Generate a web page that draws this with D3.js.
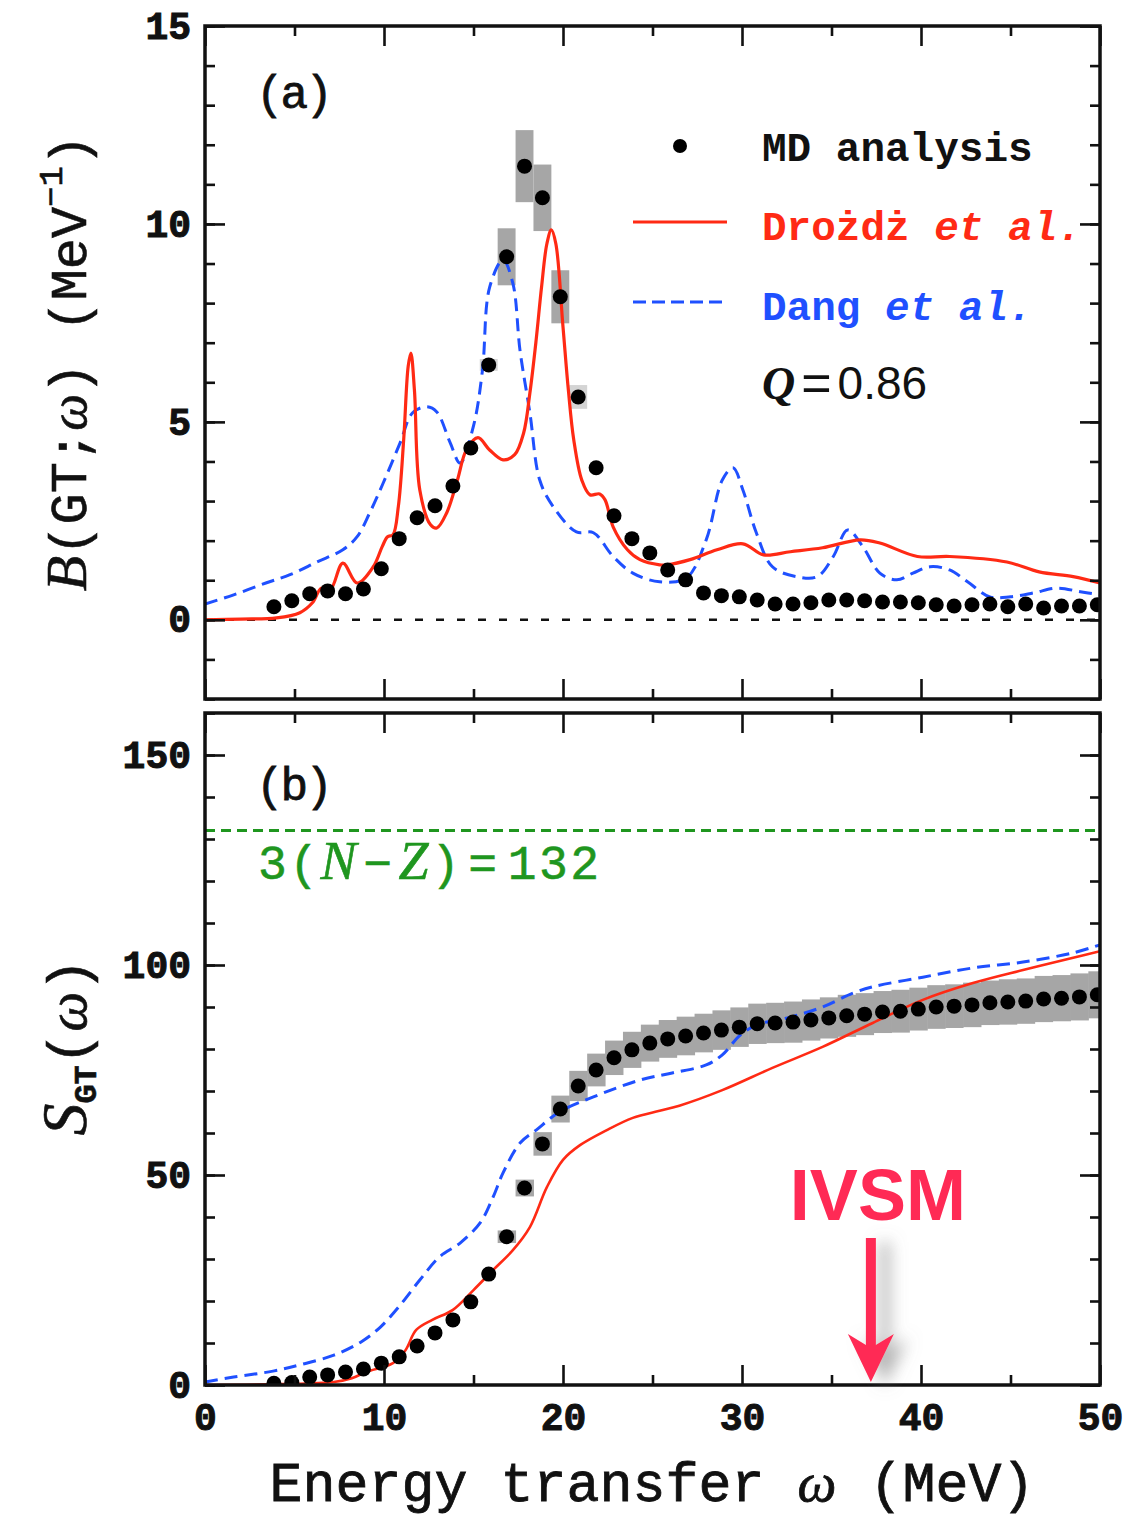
<!DOCTYPE html>
<html><head><meta charset="utf-8">
<script src="https://cdn.jsdelivr.net/npm/d3@7"></script>
<style>
html,body{margin:0;padding:0;background:#fff;}
svg{display:block;}
</style></head>
<body>
<svg id="chart" width="1148" height="1520"></svg>
<script>
// ---------------- DATA ----------------
// MD analysis points (energy in MeV)
const mdX = [3.85,4.85,5.85,6.85,7.85,8.85,9.85,10.85,11.85,12.85,13.85,14.85,15.85,16.85,17.85,18.85,19.85,20.85,21.85,22.85,23.85,24.85,25.85,26.85,27.85,28.85,29.85,30.85,31.85,32.85,33.85,34.85,35.85,36.85,37.85,38.85,39.85,40.85,41.85,42.85,43.85,44.85,45.85,46.85,47.85,48.85,49.85];
// panel (a): B(GT;w)
const mdB = [0.33,0.48,0.66,0.73,0.66,0.78,1.29,2.05,2.58,2.88,3.38,4.34,6.44,9.17,11.46,10.66,8.16,5.63,3.84,2.63,2.05,1.69,1.26,1.01,0.68,0.61,0.58,0.50,0.40,0.40,0.43,0.50,0.50,0.48,0.45,0.45,0.43,0.38,0.35,0.38,0.40,0.33,0.40,0.30,0.35,0.35,0.38];
const mdBErr = [0,0,0,0,0,0,0,0,0,0,0,0,0.15,0.72,0.91,0.84,0.67,0.3,0,0,0,0,0,0,0,0,0,0,0,0,0,0,0,0,0,0,0,0,0,0,0,0,0,0,0,0,0];
// panel (b): S_GT(w)
const mdS = [0.4,0.6,1.9,2.4,3.1,3.8,5.2,6.7,9.3,12.4,15.5,19.8,26.4,35.3,46.9,57.4,65.7,71.2,75.0,77.9,79.8,81.4,82.4,83.1,83.8,84.5,85.2,86.0,86.2,86.4,86.9,87.4,87.9,88.3,88.8,89.0,89.5,90.0,90.2,90.5,91.0,91.2,91.4,91.9,92.1,92.4,92.9];
const mdSErr = [0,0,0,0,0,0,0,0,0,0,0,0,0,1.5,2.0,2.8,3.2,3.6,3.9,4.1,4.3,4.4,4.5,4.6,4.6,4.7,4.7,4.8,4.8,4.9,4.9,4.9,5.0,5.0,5.0,5.1,5.1,5.2,5.2,5.3,5.3,5.4,5.4,5.5,5.5,5.6,5.6];

// Drozdz et al. (red), panel a
const drozdzAX = [0,2,4,5.3,6.0,6.5,7.0,7.7,8.5,9.4,9.9,10.2,10.5,10.8,11.1,11.35,11.5,11.7,12.0,12.6,12.95,13.5,14.1,14.6,15.25,15.9,16.65,17.3,17.8,18.15,18.5,18.8,19.1,19.35,19.6,20.0,20.3,20.6,21.05,21.5,22.05,22.35,22.8,23.6,24.3,25.4,25.8,27.1,28.6,30.05,31.2,32.7,34.5,36.6,37.7,39.8,41.6,44.8,46.6,48.5,50];
const drozdzAY = [0,0.02,0.05,0.18,0.43,0.8,0.76,1.43,0.93,1.34,1.85,2.1,2.15,2.86,4.55,6.4,6.74,5.8,3.28,2.4,2.32,2.7,3.53,4.29,4.6,4.29,4.04,4.17,4.72,5.73,7.07,8.4,9.5,9.85,9.5,7.4,5.8,4.55,3.53,3.16,3.18,3.03,2.35,1.77,1.52,1.39,1.39,1.52,1.77,1.92,1.64,1.72,1.82,2.02,1.94,1.6,1.6,1.46,1.21,1.09,0.93];
// Dang et al. (blue), panel a
const dangAX = [0,1.6,3.4,4.75,6.25,7.7,8.5,9.2,9.95,10.9,11.6,12.4,12.95,13.7,14.25,15.0,15.5,15.9,16.65,17.2,17.6,18.15,18.7,19.45,20.75,21.7,22.8,23.9,25.4,26.9,28.0,28.9,29.5,30.05,30.8,31.7,33.05,34.2,35.1,35.9,36.75,37.7,38.65,39.55,40.5,41.6,42.6,43.85,45.0,46.3,47.6,48.9,50];
const dangAY = [0.4,0.63,0.93,1.14,1.46,1.77,2.1,2.7,3.45,4.47,5.23,5.38,5.25,4.47,3.96,4.9,6.3,8.4,9.09,8.5,6.8,5.23,3.53,2.86,2.22,2.2,1.6,1.18,0.96,1.06,2.02,3.53,3.84,3.28,2.2,1.34,1.09,1.09,1.6,2.27,1.85,1.18,1.01,1.18,1.34,1.26,0.96,0.58,0.58,0.68,0.8,0.71,0.63];
// Drozdz et al. (red), panel b
const drozdzBX = [0,4,7.2,8.2,9.0,10.5,11.2,11.8,12.7,13.85,15.0,16.1,17.2,18.15,19.1,20.0,20.95,22.45,23.9,25.4,26.5,28.9,31.7,34.5,37.3,40.1,42.9,45.7,48.5,50];
const drozdzBY = [0,0.2,0.7,1.6,3.1,5.2,8.3,13.1,15.5,17.9,22.6,27.4,32.1,37.6,47.1,53.6,57.1,60.7,63.6,65.3,66.5,70.2,75.5,80.5,86.2,91.7,95.7,98.8,101.7,103.3];
// Dang et al. (blue), panel b
const dangBX = [0,1.6,3.8,5.3,7.2,8.7,9.8,10.9,12.0,13.1,14.25,15.4,16.1,16.65,17.6,18.5,19.8,21.7,24.3,26.1,28.0,28.9,29.9,30.8,32.7,34.5,36.2,37.3,40.1,42.9,45.7,48.5,50];
const dangBY = [0.7,1.9,3.3,4.8,7.1,10.2,13.8,19.0,25.0,30.5,33.8,38.8,44.8,50.5,57.6,60.7,65.0,68.6,72.6,74.3,76.2,78.6,83.3,85.7,87.6,90.0,93.3,94.8,97.1,99.3,100.7,102.9,104.8];

const sumRule = [132];
const ivsmX = [37.2];

const xTicks = [0,10,20,30,40,50];
const yTicksA = [0,5,10,15];
const yTicksB = [0,50,100,150];

// ---------------- LAYOUT ----------------
const svg = d3.select("#chart");
const RED = "#ff2a14", BLUE = "#1f50ff", GREEN = "#1f961f", IVSM = "#ff2a55";
const MONO = "'Liberation Mono','DejaVu Sans Mono',monospace";
const SERIF = "'Liberation Serif','DejaVu Serif',serif";
const SANS = "'Liberation Sans',Arial,sans-serif";

const x = d3.scaleLinear().domain([0,50]).range([205,1100]);
const yA = d3.scaleLinear().domain([-2,15]).range([699,26]);
const yB = d3.scaleLinear().domain([0,160]).range([1385,713]);

const defs = svg.append("defs");
const clipA = defs.append("clipPath").attr("id","clipA");
clipA.append("rect").attr("x",205).attr("y",26).attr("width",895).attr("height",673);
const clipB = defs.append("clipPath").attr("id","clipB");
clipB.append("rect").attr("x",205).attr("y",713).attr("width",895).attr("height",672);
const sh = defs.append("filter").attr("id","shadow").attr("x","-100%").attr("y","-20%").attr("width","400%").attr("height","140%");
sh.append("feDropShadow").attr("dx",14).attr("dy",4).attr("stdDeviation",8).attr("flood-color","#777").attr("flood-opacity",0.55);

function range(a,b,s){const r=[];for(let v=a;v<=b+1e-9;v+=s)r.push(+v.toFixed(6));return r;}

function drawFrame(yS, yMajor, yMinor, showX){
  const [y0,y1] = yS.range(); // bottom, top
  const g = svg.append("g");
  const xMinor = range(5,45,10);
  const addAxis = (axis, tx, ty) => {
    const a = g.append("g").attr("transform",`translate(${tx},${ty})`).call(axis);
    a.select(".domain").remove();
    a.selectAll("line").attr("stroke","#111").attr("stroke-width",2.6);
    return a;
  };
  addAxis(d3.axisBottom(x).tickValues(xMinor).tickSize(-10).tickFormat(""),0,y0);
  addAxis(d3.axisTop(x).tickValues(xMinor).tickSize(-10).tickFormat(""),0,y1);
  addAxis(d3.axisLeft(yS).tickValues(yMinor).tickSize(-10).tickFormat(""),205,0);
  addAxis(d3.axisRight(yS).tickValues(yMinor).tickSize(-10).tickFormat(""),1100,0);
  const bx = addAxis(d3.axisBottom(x).tickValues(xTicks).tickSize(-20).tickPadding(18).tickFormat(showX? d3.format("d"):""),0,y0);
  addAxis(d3.axisTop(x).tickValues(xTicks).tickSize(-20).tickFormat(""),0,y1);
  const ly = addAxis(d3.axisLeft(yS).tickValues(yMajor).tickSize(-20).tickPadding(14).tickFormat(d3.format("d")),205,0);
  addAxis(d3.axisRight(yS).tickValues(yMajor).tickSize(-20).tickFormat(""),1100,0);
  [bx,ly].forEach(a=>a.selectAll("text")
    .attr("font-family",MONO).attr("font-weight","bold").attr("font-size",38)
    .attr("fill","#111").attr("stroke","#111").attr("stroke-width",1));
  g.append("rect").attr("x",205).attr("y",y1).attr("width",895).attr("height",y0-y1)
    .attr("fill","none").attr("stroke","#111").attr("stroke-width",3.5);
}

// ---------------- PANEL A ----------------
const gA = svg.append("g").attr("clip-path","url(#clipA)");
const mdA = mdX.map((v,i)=>({x:v,y:mdB[i],e:mdBErr[i]}));
gA.selectAll("rect.err").data(mdA.filter(d=>d.e>0)).join("rect")
  .attr("x",d=>x(d.x-0.5)).attr("width",d=>x(d.x+0.5)-x(d.x-0.5))
  .attr("y",d=>yA(d.y+d.e)).attr("height",d=>yA(d.y-d.e)-yA(d.y+d.e))
  .attr("fill",d=>d.e<0.4?"#d4d4d4":"#a6a6a6");
gA.append("line").attr("x1",x(0)).attr("x2",x(50)).attr("y1",yA(0)).attr("y2",yA(0))
  .attr("stroke","#111").attr("stroke-width",2.6).attr("stroke-dasharray","8,13");
const lineA = d3.line().x(d=>x(d[0])).y(d=>yA(d[1])).curve(d3.curveCatmullRom.alpha(0.5));
gA.append("path").datum(dangAX.map((v,i)=>[v,dangAY[i]])).attr("d",lineA)
  .attr("fill","none").attr("stroke",BLUE).attr("stroke-width",3).attr("stroke-dasharray","13,7");
gA.append("path").datum(drozdzAX.map((v,i)=>[v,drozdzAY[i]])).attr("d",lineA)
  .attr("fill","none").attr("stroke",RED).attr("stroke-width",3.2);
gA.selectAll("circle").data(mdA).join("circle")
  .attr("cx",d=>x(d.x)).attr("cy",d=>yA(d.y)).attr("r",7.5).attr("fill","#000");

drawFrame(yA, yTicksA, range(-2,15,1), false);

svg.append("text").attr("x",256).attr("y",108).attr("font-family",MONO).attr("font-size",46)
  .attr("letter-spacing",-3).attr("fill","#111").attr("stroke","#111").attr("stroke-width",0.8).text("(a)");

// legend
const leg = svg.append("g");
leg.append("circle").attr("cx",680).attr("cy",146).attr("r",7).attr("fill","#000");
leg.append("text").attr("x",762).attr("y",161).attr("font-family",MONO).attr("font-weight","bold")
  .attr("font-size",41).attr("fill","#111").text("MD analysis");
leg.append("line").attr("x1",633).attr("x2",727).attr("y1",222).attr("y2",222).attr("stroke",RED).attr("stroke-width",3);
const t2 = leg.append("text").attr("x",762).attr("y",240).attr("font-family",MONO).attr("font-weight","bold")
  .attr("font-size",41).attr("fill",RED);
t2.append("tspan").text("Drożdż ");
t2.append("tspan").attr("font-style","italic").text("et al.");
leg.append("line").attr("x1",633).attr("x2",727).attr("y1",302).attr("y2",302).attr("stroke",BLUE)
  .attr("stroke-width",3).attr("stroke-dasharray","13,6");
const t3 = leg.append("text").attr("x",762).attr("y",320).attr("font-family",MONO).attr("font-weight","bold")
  .attr("font-size",41).attr("fill",BLUE);
t3.append("tspan").text("Dang ");
t3.append("tspan").attr("font-style","italic").text("et al.");
const t4 = leg.append("text").attr("x",762).attr("y",399).attr("font-size",46).attr("fill","#111");
t4.append("tspan").attr("font-family",SERIF).attr("font-style","italic").attr("font-weight","bold").text("Q");
t4.append("tspan").attr("font-family",SANS).attr("dx",6).attr("font-size",52).attr("dy",2).text("=");
t4.append("tspan").attr("font-family",SANS).attr("dx",6).attr("dy",-2).text("0.86");

// ---------------- PANEL B ----------------
const gB = svg.append("g").attr("clip-path","url(#clipB)");
const mdB2 = mdX.map((v,i)=>({x:v,y:mdS[i],e:mdSErr[i]}));
gB.selectAll("rect.err").data(mdB2.filter(d=>d.e>0)).join("rect")
  .attr("x",d=>x(d.x-0.5)).attr("width",d=>x(d.x+0.5)-x(d.x-0.5)+0.5)
  .attr("y",d=>yB(d.y+d.e)).attr("height",d=>yB(d.y-d.e)-yB(d.y+d.e))
  .attr("fill","#a6a6a6");
gB.append("line").attr("x1",x(0)).attr("x2",x(50)).attr("y1",yB(sumRule[0])).attr("y2",yB(sumRule[0]))
  .attr("stroke",GREEN).attr("stroke-width",3).attr("stroke-dasharray","10,6");
const lineB = d3.line().x(d=>x(d[0])).y(d=>yB(d[1])).curve(d3.curveCatmullRom.alpha(0.5));
gB.append("path").datum(dangBX.map((v,i)=>[v,dangBY[i]])).attr("d",lineB)
  .attr("fill","none").attr("stroke",BLUE).attr("stroke-width",3).attr("stroke-dasharray","13,7");
gB.append("path").datum(drozdzBX.map((v,i)=>[v,drozdzBY[i]])).attr("d",lineB)
  .attr("fill","none").attr("stroke",RED).attr("stroke-width",2.6);
gB.selectAll("circle").data(mdB2).join("circle")
  .attr("cx",d=>x(d.x)).attr("cy",d=>yB(d.y)).attr("r",7.5).attr("fill","#000");

drawFrame(yB, yTicksB, range(0,160,10), true);

svg.append("text").attr("x",256).attr("y",800).attr("font-family",MONO).attr("font-size",46)
  .attr("letter-spacing",-3).attr("fill","#111").attr("stroke","#111").attr("stroke-width",0.8).text("(b)");

const gl = svg.append("text").attr("x",258).attr("y",879).attr("font-size",48).attr("fill",GREEN)
  .attr("font-family",MONO).attr("stroke",GREEN).attr("stroke-width",0.6).attr("letter-spacing",2.5);
gl.append("tspan").text("3(");
gl.append("tspan").attr("font-family",SERIF).attr("font-style","italic").attr("font-size",54).text("N");
gl.append("tspan").attr("dx",4).text("−");
gl.append("tspan").attr("dx",4).attr("font-family",SERIF).attr("font-style","italic").attr("font-size",54).text("Z");
gl.append("tspan").text(")");
gl.append("tspan").attr("dx",6).text("=");
gl.append("tspan").attr("dx",8).text("132");

// IVSM annotation
const ax = x(ivsmX[0]);
svg.append("text").attr("x",ax+7).attr("y",1220).attr("text-anchor","middle")
  .attr("font-family",SANS).attr("font-weight","bold").attr("font-size",72).attr("fill",IVSM).text("IVSM");
const arr = svg.append("g").attr("filter","url(#shadow)");
arr.append("rect").attr("x",ax-5).attr("y",1238).attr("width",10).attr("height",110).attr("fill",IVSM);
arr.append("path").attr("d",`M${ax-23},1334 L${ax},1382 L${ax+23},1334 L${ax},1348 Z`).attr("fill",IVSM);

// axis titles
const ty = svg.append("text").attr("transform","translate(86,363) rotate(-90)").attr("text-anchor","middle")
  .attr("font-family",MONO).attr("font-size",52).attr("fill","#111").attr("stroke","#111").attr("stroke-width",0.6);
ty.append("tspan").attr("font-family",SERIF).attr("font-style","italic").attr("font-size",58).text("B");
ty.append("tspan").text("(GT;");
ty.append("tspan").attr("font-family",SERIF).attr("font-style","italic").text("ω");
ty.append("tspan").text(")  (MeV");
ty.append("tspan").attr("font-size",34).attr("dy",-24).text("−1");
ty.append("tspan").attr("dy",24).text(")");

const ts = svg.append("text").attr("transform","translate(86,1047) rotate(-90)").attr("text-anchor","middle")
  .attr("font-family",MONO).attr("font-size",56).attr("fill","#111").attr("stroke","#111").attr("stroke-width",0.6);
ts.append("tspan").attr("font-family",SERIF).attr("font-style","italic").attr("font-size",64).text("S");
ts.append("tspan").attr("font-size",32).attr("font-weight","bold").attr("dy",10).text("GT");
ts.append("tspan").attr("dy",-10).text("(");
ts.append("tspan").attr("font-family",SERIF).attr("font-style","italic").text("ω");
ts.append("tspan").text(")");

const tx = svg.append("text").attr("x",652).attr("y",1501).attr("text-anchor","middle")
  .attr("font-family",MONO).attr("font-size",55).attr("fill","#111").attr("stroke","#111").attr("stroke-width",0.8);
tx.append("tspan").text("Energy transfer ");
tx.append("tspan").attr("font-family",SERIF).attr("font-style","italic").text("ω");
tx.append("tspan").text(" (MeV)");
</script>
</body></html>
